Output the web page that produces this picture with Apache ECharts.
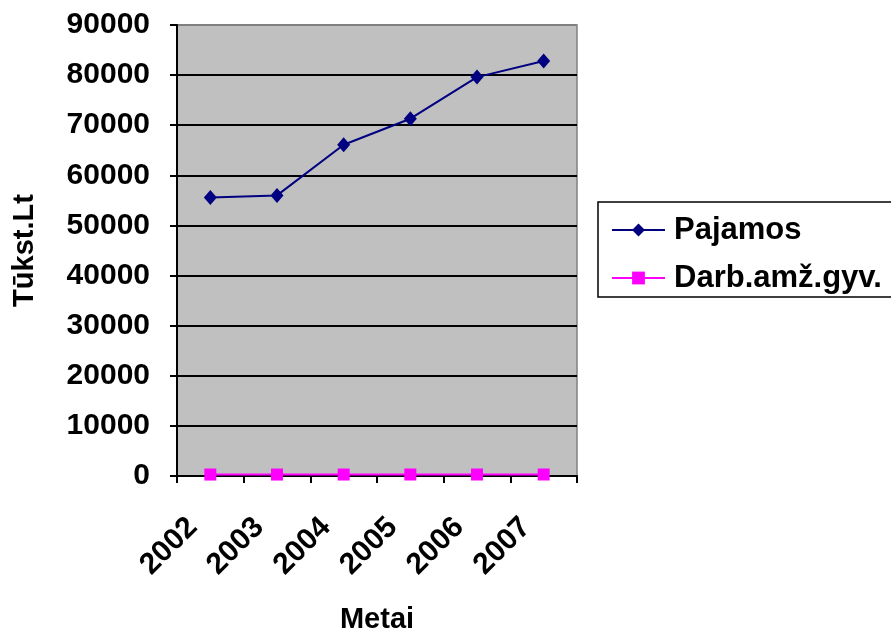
<!DOCTYPE html>
<html>
<head>
<meta charset="utf-8">
<script src="https://cdn.jsdelivr.net/npm/echarts@6/dist/echarts.min.js"></script>
<style>
  html, body { margin: 0; padding: 0; background: #ffffff; }
  #chart { width: 891px; height: 632px; }
</style>
</head>
<body>
<div id="chart"></div>
<script>
// Years on the category axis
const years = ['2002', '2003', '2004', '2005', '2006', '2007'];
// Income, thousand Lt
const pajamos = [55600, 56000, 66100, 71300, 79600, 82800];
// Working-age population
const darbAmzGyv = [290, 290, 295, 300, 300, 300];
// Value axis ticks
const yMin = 0;
const yMax = 90000;
const yStep = 10000;

const FONT = '"Liberation Sans", Arial, sans-serif';

// Gridlines are black; the top edge of the plot keeps the grey frame colour
const splitColors = [];
for (let v = yMin; v < yMax; v += yStep) splitColors.push('#000000');
splitColors.push('#808080');

const chart = echarts.init(document.getElementById('chart'), null, { renderer: 'canvas' });

chart.setOption({
  animation: false,
  backgroundColor: '#ffffff',
  textStyle: { fontFamily: FONT },
  grid: {
    left: 177, right: 314, top: 25, bottom: 156,
    outerBoundsMode: 'none',
    containLabel: false,
    show: true,
    backgroundColor: '#c0c0c0',
    borderColor: '#808080',
    borderWidth: 1.5
  },
  legend: {
    left: 598, top: 202,
    orient: 'vertical',
    backgroundColor: '#ffffff',
    borderColor: '#000000',
    borderWidth: 1.5,
    borderRadius: 0,
    padding: [11, 60, 2, 13],
    itemGap: 14,
    itemWidth: 53,
    itemHeight: 16,
    textStyle: {
      fontFamily: FONT, fontWeight: 'bold', fontSize: 31, color: '#000000',
      lineHeight: 34, padding: [0, 0, 0, 4]
    },
    data: ['Pajamos', 'Darb.amž.gyv.']
  },
  xAxis: {
    type: 'category',
    data: years,
    boundaryGap: true,
    name: 'Metai',
    nameLocation: 'middle',
    nameGap: 129,
    nameTextStyle: { fontFamily: FONT, fontWeight: 'bold', fontSize: 29, color: '#000000' },
    axisLine: { lineStyle: { color: '#000000', width: 2 } },
    axisTick: { show: true, inside: false, length: 7, lineStyle: { color: '#000000', width: 2 } },
    axisLabel: {
      rotate: 45, margin: 29, interval: 0,
      padding: [0, 25, 0, 0],
      fontFamily: FONT, fontWeight: 'bold', fontSize: 30, color: '#000000'
    },
    splitLine: { show: false }
  },
  yAxis: {
    type: 'value',
    min: yMin, max: yMax, interval: yStep,
    name: 'Tūkst.Lt',
    nameLocation: 'middle',
    nameGap: 138,
    nameRotate: 90,
    nameTextStyle: { fontFamily: FONT, fontWeight: 'bold', fontSize: 29, color: '#000000' },
    axisLine: { show: true, lineStyle: { color: '#000000', width: 2 } },
    axisTick: { show: true, inside: false, length: 7, lineStyle: { color: '#000000', width: 2 } },
    axisLabel: {
      margin: 27,
      formatter: (v) => String(v),
      fontFamily: FONT, fontWeight: 'bold', fontSize: 30, color: '#000000'
    },
    splitLine: { show: true, lineStyle: { color: splitColors, width: 2 } }
  },
  series: [
    {
      name: 'Pajamos',
      type: 'line',
      data: pajamos,
      symbol: 'diamond',
      symbolSize: [13, 15],
      showAllSymbol: true,
      lineStyle: { color: '#000080', width: 2 },
      itemStyle: { color: '#000080' },
      z: 3
    },
    {
      name: 'Darb.amž.gyv.',
      type: 'line',
      data: darbAmzGyv,
      symbol: 'rect',
      symbolSize: 12,
      showAllSymbol: true,
      lineStyle: { color: '#ff00ff', width: 2 },
      itemStyle: { color: '#ff00ff' },
      z: 4
    }
  ]
});
</script>
</body>
</html>
